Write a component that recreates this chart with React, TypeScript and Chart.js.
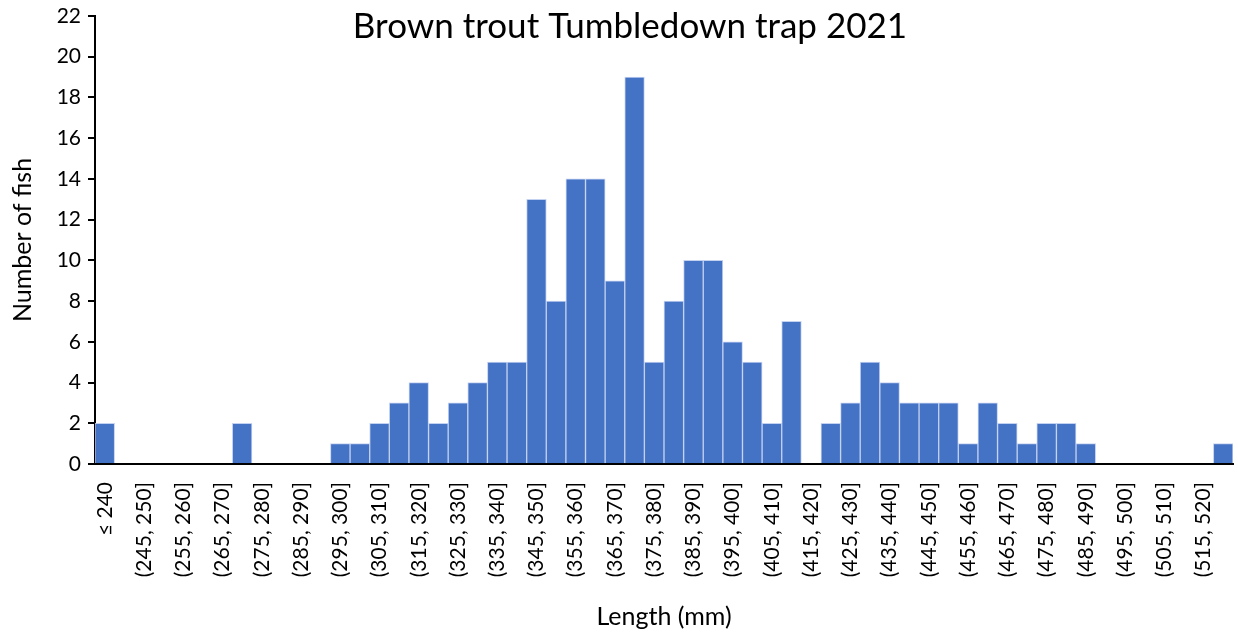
import React, { useEffect, useRef } from "react";
import { Chart, registerables } from "chart.js";

Chart.register(...registerables);

const titleText = "Brown trout Tumbledown trap 2021";
const xTitle = "Length (mm)";
const yTitle = "Number of fish";

const binStarts = [
  240, 245, 250, 255, 260, 265, 270, 275, 280, 285, 290, 295, 300, 305, 310, 315, 320, 325, 330, 335,
  340, 345, 350, 355, 360, 365, 370, 375, 380, 385, 390, 395, 400, 405, 410, 415, 420, 425, 430, 435,
  440, 445, 450, 455, 460, 465, 470, 475, 480, 485, 490, 495, 500, 505, 510, 515,
];
const categories: string[] = [
  "≤ 240",
  ...binStarts.map((s) => `(${s}, ${s + 5}]`),
  "> 520",
];
const counts = [
  2, 0, 0, 0, 0, 0, 0, 2, 0, 0, 0, 0, 1, 1, 2, 3, 4, 2, 3, 4,
  5, 5, 13, 8, 14, 14, 9, 19, 5, 8, 10, 10, 6, 5, 2, 7, 0, 2, 3, 5,
  4, 3, 3, 3, 1, 3, 2, 1, 2, 2, 1, 0, 0, 0, 0, 0, 0, 1,
];
const yTicks = { min: 0, max: 22, step: 2 };

const FONT = "Lato, 'Open Sans', sans-serif";

export default function App() {
  const ref = useRef<HTMLCanvasElement | null>(null);
  useEffect(() => {
    if (!ref.current) return;
    const titlePlugin = {
      id: "innerTitle",
      afterDraw(chart: any) {
        const ctx = chart.ctx;
        ctx.save();
        ctx.font = `35px ${FONT}`;
        ctx.fillStyle = "#000";
        ctx.textAlign = "center";
        ctx.textBaseline = "middle";
        ctx.fillText(titleText, 630, 27);
        ctx.restore();
      },
    };
    const chart = new Chart(ref.current, {
      type: "bar",
      data: {
        labels: categories,
        datasets: [
          {
            data: counts,
            backgroundColor: "#4472C4",
            borderColor: "rgba(190,205,240,0.9)",
            borderWidth: 1,
            categoryPercentage: 1,
            barPercentage: 1,
          },
        ],
      },
      options: {
        responsive: false,
        animation: false,
        layout: { padding: { left: 0, right: 5, top: 16, bottom: 0 } },
        plugins: { legend: { display: false }, tooltip: { enabled: false }, title: { display: false } },
        scales: {
          x: {
            grid: { display: false, drawTicks: false },
            border: { display: true, color: "#000", width: 2 },
            ticks: {
              autoSkip: false,
              maxRotation: 90,
              minRotation: 90,
              padding: 18,
              color: "#000",
              font: { family: FONT, size: 21 },
              callback: (_v: any, i: number) => (i % 2 === 0 ? categories[i] : ""),
            },
            title: {
              display: true,
              text: xTitle,
              color: "#000",
              font: { family: FONT, size: 25 },
              padding: { top: 0, bottom: 1 },
            },
            afterFit: (s: any) => {
              s.height = 633 - 464;
              s.paddingLeft = 0;
              s.paddingRight = 0;
            },
          },
          y: {
            min: yTicks.min,
            max: yTicks.max,
            grid: { display: true, drawOnChartArea: false, drawTicks: true, tickLength: 7, color: "#000", lineWidth: 2 },
            border: { display: true, color: "#000", width: 2 },
            ticks: {
              stepSize: yTicks.step,
              padding: 7,
              color: "#000",
              font: { family: FONT, size: 21 },
            },
            title: {
              display: true,
              text: yTitle,
              color: "#000",
              font: { family: FONT, size: 25 },
              padding: { top: 8, bottom: 0 },
            },
            afterFit: (s: any) => {
              s.width = 95;
              s.paddingTop = 0;
              s.paddingBottom = 0;
            },
          },
        },
      },
      plugins: [titlePlugin],
    });
    return () => chart.destroy();
  }, []);
  return (
    <div style={{ position: "fixed", left: 0, top: 0, width: 1238, height: 633, background: "#fff" }}>
      <canvas ref={ref} width={1238} height={633} style={{ display: "block" }} />
    </div>
  );
}
